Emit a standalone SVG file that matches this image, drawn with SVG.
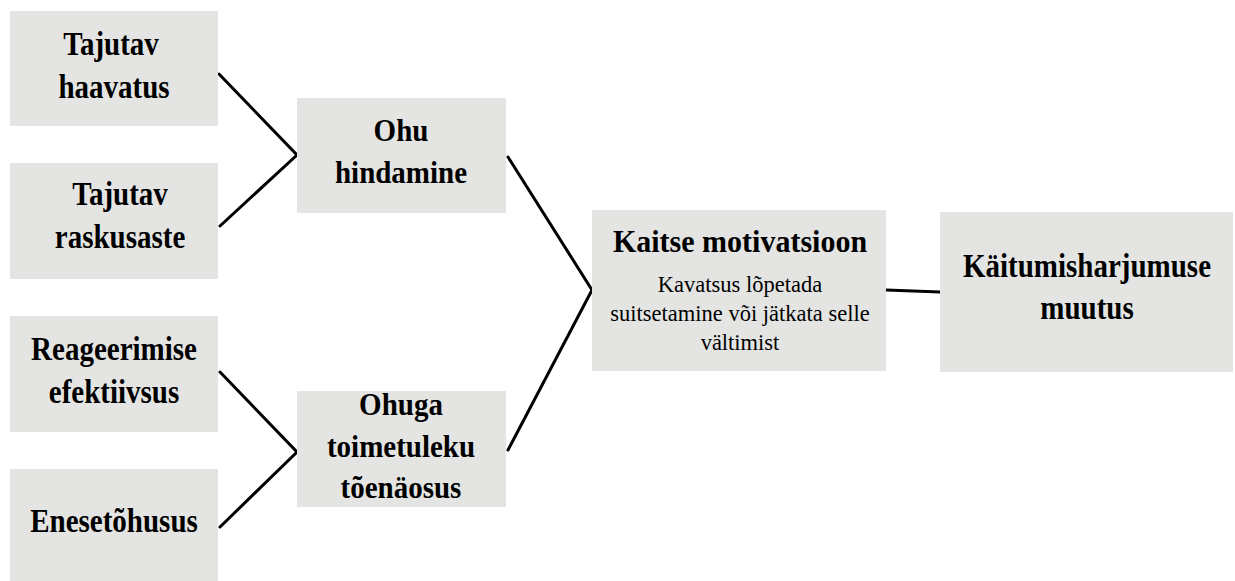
<svg xmlns="http://www.w3.org/2000/svg" width="1235" height="581" viewBox="0 0 1235 581">
<style>
.box{fill:#e4e5e3;}
.t{font-family:"Liberation Serif","Times New Roman",serif;font-weight:bold;font-size:29px;fill:#000;text-anchor:middle;}
.s{font-family:"Liberation Serif","Times New Roman",serif;font-size:22.5px;fill:#000;text-anchor:middle;}
.c{stroke:#000;stroke-width:3;fill:none;stroke-linecap:round;stroke-linejoin:miter;}
</style>
<rect width="1235" height="581" fill="#fff"/>
<g id="connectors">
<polyline class="c" points="219,74 297,155 220,226"/>
<polyline class="c" points="220,372 297,452 220,527"/>
<polyline class="c" points="508,157 592,290 508,450"/>
<line class="c" x1="886" y1="290" x2="940" y2="292"/>
</g>
<g id="n1">
<rect class="box" x="10" y="11" width="208" height="115"/>
<text class="t" transform="translate(111,55) scale(1,1.13)">Tajutav</text>
<text class="t" transform="translate(114,98) scale(1,1.13)">haavatus</text>
</g>
<g id="n2">
<rect class="box" x="10" y="163" width="208" height="116"/>
<text class="t" transform="translate(120,205) scale(1,1.13)">Tajutav</text>
<text class="t" transform="translate(120,248) scale(1,1.13)">raskusaste</text>
</g>
<g id="n3">
<rect class="box" x="10" y="316" width="208" height="116"/>
<text class="t" transform="translate(114,360) scale(1,1.13)">Reageerimise</text>
<text class="t" transform="translate(114,403) scale(1,1.13)">efektiivsus</text>
</g>
<g id="n4">
<rect class="box" x="10" y="469" width="208" height="116"/>
<text class="t" transform="translate(114,532) scale(1,1.13)">Enesetõhusus</text>
</g>
<g id="n5">
<rect class="box" x="297" y="98" width="209" height="115"/>
<text class="t" transform="translate(401,141) scale(1,1.1)">Ohu</text>
<text class="t" transform="translate(401,183) scale(1,1.1)">hindamine</text>
</g>
<g id="n6">
<rect class="box" x="297" y="391" width="209" height="116"/>
<text class="t" transform="translate(401,415) scale(1,1.1)">Ohuga</text>
<text class="t" transform="translate(401,457) scale(1,1.1)">toimetuleku</text>
<text class="t" transform="translate(401,498) scale(1,1.1)">tõenäosus</text>
</g>
<g id="n7">
<rect class="box" x="592" y="210" width="294" height="161"/>
<text class="t" style="font-size:30px" transform="translate(740,252) scale(1,1.02)">Kaitse motivatsioon</text>
<text class="s" x="740" y="292">Kavatsus lõpetada</text>
<text class="s" x="740" y="321">suitsetamine või jätkata selle</text>
<text class="s" x="740" y="350">vältimist</text>
</g>
<g id="n8">
<rect class="box" x="940" y="212" width="293" height="160"/>
<text class="t" transform="translate(1087,277) scale(1,1.18)">Käitumisharjumuse</text>
<text class="t" transform="translate(1087,319) scale(1,1.18)">muutus</text>
</g>
</svg>
